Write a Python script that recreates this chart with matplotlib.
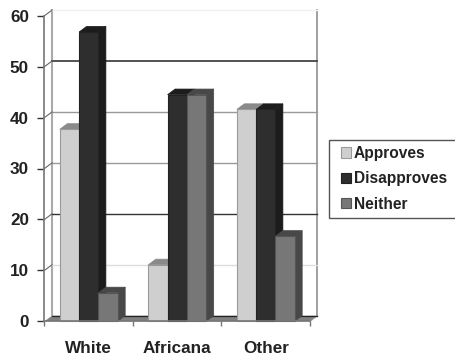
import matplotlib
matplotlib.use('Agg')
import matplotlib.pyplot as plt
from matplotlib.patches import Patch, Polygon, Rectangle

plt.rcParams['font.family'] = ['Liberation Sans', 'DejaVu Sans']
plt.rcParams['font.weight'] = 'bold'

categories = ['White', 'Africana', 'Other']
series_names = ['Approves', 'Disapproves', 'Neither']
approves = [37.7, 11.1, 41.6]
disapproves = [56.8, 44.5, 41.6]
neither = [5.6, 44.5, 16.7]
y_ticks = [0, 10, 20, 30, 40, 50, 60]

# front, top, side, edge
colors = [('#cfcfcf', '#8a8a8a', '#8a8a8a', '#9a9a9a'),
          ('#2e2e2e', '#1c1c1c', '#1c1c1c', '#222222'),
          ('#777777', '#484848', '#484848', '#555555')]
# back wall gridlines: colour, width
grid_style = {10: ('#dddddd', 1.0), 20: ('#333333', 1.0), 30: ('#999999', 1.0),
              40: ('#999999', 1.0), 50: ('#444444', 1.3), 60: ('#f2f2f2', 1.0)}

W, H = 456, 356
fig = plt.figure(figsize=(W / 100, H / 100), dpi=100)
ax = fig.add_axes([44.5 / W, 1 - 321.3 / H, 265.5 / W, 305.6 / H])
ax.set_xlim(0, len(categories))
ax.set_ylim(0, 60)

# 3d depth in data units
dx = 7.5 / 88.5
dy = 5.6 / 5.09
bar_w = 0.218

#
#   walls and floor
#
n = len(categories)
ax.add_patch(Polygon([(0, 0), (n, 0), (n + dx, dy), (dx, dy)], closed=True, fc='#808080', ec='none',
                     clip_on=False, zorder=1))
ax.plot([dx, n + dx], [dy, dy], color='#222222', lw=0.9, clip_on=False, zorder=1.5)
ax.plot([dx, dx], [dy, 60 + dy], color='#aaaaaa', lw=1.5, clip_on=False, zorder=1)
ax.plot([n + dx, n + dx], [dy, 60 + dy], color='#999999', lw=1.3, clip_on=False, zorder=1)
ax.plot([n, n + dx], [0, dy], color='#999999', lw=0.8, clip_on=False, zorder=1)
for v in y_ticks[1:]:
    c, lw = grid_style[v]
    ax.plot([dx, n + dx], [v + dy, v + dy], color=c, lw=lw, clip_on=False, zorder=1.2)
    ax.plot([0, dx], [v, v + dy], color='#666666', lw=0.8, clip_on=False, zorder=1.2)

#
#   bars
#
z = 3
for i in range(n):
    for j, vals in enumerate([approves, disapproves, neither]):
        front, top, side, edge = colors[j]
        v = vals[i]
        x0 = i + 0.5 + (j - 1.5) * bar_w
        x1 = x0 + bar_w
        ax.add_patch(Polygon([(x1, 0), (x1 + dx, dy), (x1 + dx, v + dy), (x1, v)], closed=True,
                             fc=side, ec=side, lw=0.5, clip_on=False, zorder=z))
        ax.add_patch(Polygon([(x0, v), (x0 + dx, v + dy), (x1 + dx, v + dy), (x1, v)], closed=True,
                             fc=top, ec=top, lw=0.5, clip_on=False, zorder=z))
        ax.bar(x0, v, width=bar_w, align='edge', color=front, edgecolor=edge, linewidth=0.8,
               clip_on=False, zorder=z + 0.5)
        z += 1

#
#   axes
#
for s in ['top', 'right']:
    ax.spines[s].set_visible(False)
for s in ['left', 'bottom']:
    ax.spines[s].set_color('#777777')
    ax.spines[s].set_linewidth(1.2)
    ax.spines[s].set_zorder(50)

ax.set_yticks(y_ticks)
ax.tick_params(axis='y', length=4.7, width=1, color='#333333', pad=6.5, labelsize=12.3, labelcolor='#222222')
ax.set_xticks(range(n + 1))
ax.set_xticklabels([])
ax.tick_params(axis='x', which='major', length=3.5, width=1, color='#777777')
ax.set_xticks([i + 0.5 for i in range(n)], minor=True)
ax.set_xticklabels(categories, minor=True)
ax.tick_params(axis='x', which='minor', length=0, pad=14, labelsize=12.3, labelcolor='#222222')

#
#   legend: box runs off the right side of the picture
#
fig.add_artist(Rectangle((329 / W, 1 - 218 / H), 140 / W, 78 / H, transform=fig.transFigure,
                         fc='white', ec='#555555', lw=1))
handles = [Patch(facecolor=colors[j][0], edgecolor=colors[j][3], linewidth=0.8) for j in range(3)]
leg = fig.legend(handles, series_names, loc='upper left', bbox_to_anchor=(341 / W, 1 - 146 / H),
                 borderaxespad=0, borderpad=0, prop={'size': 11.2, 'weight': 'bold'}, labelcolor='#222222',
                 frameon=False, handlelength=0.62, handleheight=0.62, handletextpad=0.22, labelspacing=0.66)

fig.savefig('out.png', dpi=100)
